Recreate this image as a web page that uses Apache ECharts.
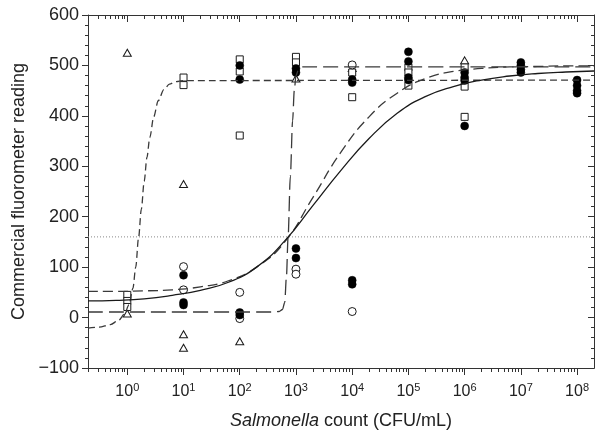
<!DOCTYPE html>
<html>
<head>
<meta charset="utf-8">
<script src="https://cdn.jsdelivr.net/npm/echarts@6/dist/echarts.min.js"></script>
<style>html,body{margin:0;padding:0;background:#fff}#c{width:604px;height:438px}</style>
</head>
<body>
<div id="c"></div>
<script>
// x values are log10(Salmonella count, CFU/mL)
const xMin = -0.699, xMax = 8.301;
const xMajorTicks = [0, 1, 2, 3, 4, 5, 6, 7, 8];
const xMinorTicks = [];
for (let d = -1; d <= 8; d++) {
  for (let k = 2; k <= 9; k++) {
    const v = d + Math.log10(k);
    if (v > xMin && v < xMax) xMinorTicks.push(v);
  }
}
const yTicks = [-100, 0, 100, 200, 300, 400, 500, 600];
const threshold = 160;

const openTriangles = [[0,525],[0,8],[1,265],[1,-33],[1,-60],[2,-47],[3,474],[4,495],[6,510]];
const openSquares = [[0,45],[0,33],[0,21],[1,476],[1,461],[2,512],[2,488],[2,361],[3,517],[3,506],[4,486],[4,437],[5,496],[5,486],[5,460],[6,496],[6,458],[6,398]];
const openCircles = [[1,101],[1,55],[2,50],[2,-2],[3,96],[3,86],[4,501],[4,12]];
const filledCircles = [[1,84],[1,30],[1,25],[2,500],[2,472],[2,10],[2,5],[3,494],[3,486],[3,137],[3,118],[4,472],[4,466],[4,74],[4,66],[5,527],[5,508],[5,476],[5,471],[6,486],[6,476],[6,470],[6,380],[7,506],[7,500],[7,492],[7,486],[8,471],[8,460],[8,450],[8,445]];

const curveShortDash = [[-0.699,-21],[-0.5,-19],[-0.3,-14],[-0.15,-5],[-0.05,7],[0.03,25],[0.1,58],[0.15,100],[0.2,158],[0.25,215],[0.3,270],[0.35,318],[0.4,357],[0.47,398],[0.55,430],[0.65,452],[0.75,463],[0.87,468],[1.0,470],[8.301,471]];
const curveStep = [[-0.699,11],[2.6,11],[2.7,12],[2.76,16],[2.8,30],[2.83,80],[2.86,160],[2.9,280],[2.94,390],[2.97,450],[3.0,480],[3.05,493],[3.12,497],[8.301,497]];
const curveSolid = [[-0.699,33],[-0.2,34],[0.3,37],[0.8,44],[1.3,54],[1.8,70],[2.3,100],[2.8,152],[3.3,222],[3.8,292],[4.3,355],[4.8,405],[5.3,438],[5.8,458],[6.3,471],[6.8,479],[7.3,484],[7.8,487],[8.301,489]];
const curveMidDash = [[-0.699,52],[-0.2,52],[0.3,53],[0.8,55],[1.3,61],[1.8,73],[2.3,100],[2.8,150],[3.3,238],[3.8,328],[4.3,398],[4.8,445],[5.3,474],[5.8,488],[6.3,494],[6.8,497],[7.3,498],[7.8,499],[8.301,499]];

const FONT = '"Liberation Sans", Arial, sans-serif';
const AX = '#333';

function xAxisDef(pos, ticks, len, inside, labels) {
  return {
    type: 'value', min: xMin, max: xMax, position: pos, gridIndex: 0,
    axisLine: { show: true, onZero: false, lineStyle: { color: AX, width: 1 } },
    splitLine: { show: false },
    axisTick: { show: true, customValues: ticks, length: len, inside: inside, lineStyle: { color: AX, width: 1 } },
    axisLabel: labels ? {
      show: true, customValues: xMajorTicks, margin: 14,
      formatter: v => '{b|10}{s|' + Math.round(v) + '}',
      rich: {
        b: { fontSize: 16, fontFamily: FONT, color: '#222', lineHeight: 20 },
        s: { fontSize: 11, fontFamily: FONT, color: '#222', lineHeight: 12, verticalAlign: 'top' }
      }
    } : { show: false }
  };
}

const lineBase = { type: 'line', showSymbol: false, symbol: 'none', smooth: 0.5, silent: true, animation: false };
const openStyle = { color: '#fff', borderColor: '#1a1a1a', borderWidth: 1, opacity: 1 };

const option = {
  animation: false,
  backgroundColor: '#fff',
  grid: { left: 88, right: 10, top: 15, bottom: 70 },
  xAxis: [
    Object.assign(xAxisDef('bottom', xMajorTicks, 7, false, true), {
      name: '{i|Salmonella} count (CFU/mL)', nameLocation: 'middle', nameGap: 44,
      nameTextStyle: { fontSize: 18, fontFamily: FONT, color: '#222', rich: { i: { fontStyle: 'italic', fontSize: 18, fontFamily: FONT, color: '#222' } } }
    }),
    xAxisDef('bottom', xMinorTicks, 4, false, false),
    xAxisDef('top', xMajorTicks, 7, true, false),
    xAxisDef('top', xMinorTicks, 4, true, false)
  ],
  yAxis: [
    {
      type: 'value', min: -100, max: 600, interval: 100, position: 'left',
      name: 'Commercial fluorometer reading', nameLocation: 'middle', nameGap: 58,
      nameTextStyle: { fontSize: 18, fontFamily: FONT, color: '#222' },
      axisLine: { show: true, onZero: false, lineStyle: { color: AX } },
      axisTick: { show: true, length: 6, lineStyle: { color: AX } },
      minorTick: { show: true, splitNumber: 5, length: 3, lineStyle: { color: AX } },
      splitLine: { show: false },
      axisLabel: { fontSize: 18, fontFamily: FONT, color: '#222', margin: 9, formatter: v => v < 0 ? '\u2212' + Math.abs(v) : String(v) }
    },
    {
      type: 'value', min: -100, max: 600, interval: 100, position: 'right',
      axisLine: { show: true, onZero: false, lineStyle: { color: AX } },
      axisTick: { show: true, inside: true, length: 6, lineStyle: { color: AX } },
      minorTick: { show: true, splitNumber: 5, length: 3, lineStyle: { color: AX } },
      splitLine: { show: false },
      axisLabel: { show: false }
    }
  ],
  series: [
    Object.assign({}, lineBase, { data: [[xMin, threshold], [xMax, threshold]], smooth: false, lineStyle: { color: '#888', width: 1, type: [1, 2] } }),
    Object.assign({}, lineBase, { data: curveShortDash, smooth: 0.3, smoothMonotone: 'x', lineStyle: { color: '#3a3a3a', width: 1.3, type: [7, 4] } }),
    Object.assign({}, lineBase, { data: curveStep, smooth: 0.3, smoothMonotone: 'x', lineStyle: { color: '#3a3a3a', width: 1.3, type: [15, 6] } }),
    Object.assign({}, lineBase, { data: curveMidDash, lineStyle: { color: '#3a3a3a', width: 1.3, type: [10, 5] } }),
    Object.assign({}, lineBase, { data: curveSolid, lineStyle: { color: '#1a1a1a', width: 1.3, type: 'solid' } }),
    { type: 'scatter', data: openTriangles, symbol: 'triangle', symbolSize: [8, 7], itemStyle: openStyle, silent: true },
    { type: 'scatter', data: openSquares, symbol: 'rect', symbolSize: 7, itemStyle: openStyle, silent: true },
    { type: 'scatter', data: openCircles, symbol: 'circle', symbolSize: 8, itemStyle: openStyle, silent: true },
    { type: 'scatter', data: filledCircles, symbol: 'circle', symbolSize: 8, itemStyle: { color: '#000', borderColor: '#000', borderWidth: 0.5, opacity: 1 }, silent: true }
  ]
};

const chart = echarts.init(document.getElementById('c'), null, { renderer: 'canvas' });
chart.setOption(option);
</script>
</body>
</html>
